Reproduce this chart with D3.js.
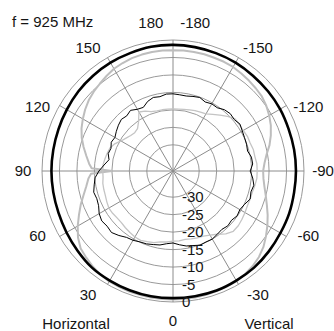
<!DOCTYPE html>
<html>
<head>
<meta charset="utf-8">
<script src="https://cdn.jsdelivr.net/npm/d3@7/dist/d3.min.js"></script>
<style>
  html, body { margin: 0; padding: 0; background: #fff; }
  svg { display: block; }
  text { font-family: "Liberation Sans", Arial, sans-serif; fill: #151515; }
</style>
</head>
<body>
<script>
// Measurement frequency
const title = "f = 925 MHz";

// Angle grids (degrees)
const angles10 = [-180,-170,-160,-150,-140,-130,-120,-110,-100,-90,-80,-70,-60,-50,-40,-30,-20,-10,
                  0,10,20,30,40,50,60,70,80,90,100,110,120,130,140,150,160,170];
const angles5 = [-180,-175,-170,-165,-160,-155,-150,-145,-140,-135,-130,-125,-120,-115,-110,-105,
                 -100,-95,-90,-85,-80,-75,-70,-65,-60,-55,-50,-45,-40,-35,-30,-25,-20,-15,-10,-5,
                 0,5,10,15,20,25,30,35,40,45,50,55,60,65,70,75,80,85,90,95,100,105,110,115,120,
                 125,130,135,140,145,150,155,160,165,170,175];
const anglesV = [-180,-175,-170,-165,-160,-155,-150,-145,-140,-135,-130,-125,-120,-115,-110,-105,
                 -100,-95,-90,-85,-80,-75,-70,-65,-60,-55,-50,-45,-40,-35,-30,-25,-20,-15,-10,-5,
                 0,5,10,15,20,25,30,35,40,45,50,55,60,65,70,75,80,85,88,90,92,95,100,105,110,115,120,
                 125,130,135,140,145,150,155,160,165,170,175];

// Horizontal polarisation, co-polar (dB), on angles10
const horizCo = [-1.4,-1.5,-1.6,-1.7,-1.9,-2.0,-2.1,-2.3,-2.3,-2.3,-2.3,-2.1,-2.0,-1.7,-1.4,-1.3,-1.1,-1.1,
                 -1.1,-1.1,-1.2,-1.3,-1.4,-1.9,-2.3,-2.6,-2.7,-2.7,-2.7,-2.6,-2.4,-2.1,-1.9,-1.7,-1.6,-1.4];

// Horizontal polarisation, cross-polar (dB), on angles5
const horizX = [-15.4,-15.6,-15.7,-15.4,-15.1,-15.7,-15.3,-15.4,-14.6,-14.3,-14.6,-14.1,-14.6,-14.9,-15.1,-15.4,
                -14.7,-14.6,-15.4,-14.6,-14.0,-14.4,-14.0,-14.9,-15.4,-15.1,-15.6,-15.3,-15.7,-15.4,-15.0,-15.1,
                -14.9,-15.4,-15.7,-16.3,-16.9,-16.6,-16.0,-15.7,-15.3,-15.1,-14.6,-14.3,-13.4,-12.6,-12.9,-12.6,
                -13.1,-14.0,-14.3,-14.0,-14.6,-15.1,-16.3,-17.7,-18.9,-18.3,-18.6,-18.0,-18.3,-17.7,-17.1,-16.6,
                -16.9,-16.3,-17.1,-17.4,-16.3,-15.7,-15.9,-15.4];

// Vertical polarisation, co-polar (dB), on anglesV
const vertCo = [-2.9,-2.9,-2.9,-2.9,-3.0,-3.0,-3.1,-3.4,-3.7,-4.0,-4.3,-4.9,-5.7,-6.6,-7.7,-8.9,
                -10.3,-11.2,-11.7,-11.5,-10.9,-10.0,-8.9,-7.6,-6.3,-5.0,-3.7,-2.7,-2.0,-1.5,-1.1,-1.0,
                -0.9,-0.8,-0.7,-0.7,-0.7,-0.7,-0.7,-0.8,-0.8,-0.9,-1.0,-1.3,-1.8,-2.4,-3.0,-4.3,
                -6.0,-7.8,-9.4,-11.0,-12.3,-13.2,-14.0,-20.0,-14.2,-13.4,-12.3,-11.0,-9.7,-8.6,-7.7,
                -6.8,-6.0,-5.4,-4.9,-4.3,-3.7,-3.4,-3.1,-3.0,-2.9,-2.9];

// Vertical polarisation, cross-polar (dB), on angles5
const vertX = [-19.7,-19.7,-19.6,-19.4,-19.1,-18.9,-18.6,-17.7,-16.6,-15.4,-14.3,-14.3,-14.3,-14.0,-14.0,-13.7,
               -13.7,-13.4,-13.4,-13.4,-13.7,-14.0,-14.0,-14.0,-13.7,-13.4,-13.1,-13.1,-14.0,-15.4,-16.3,-16.9,
               -17.1,-17.4,-17.6,-17.4,-17.4,-17.1,-16.9,-16.3,-16.0,-15.6,-15.7,-16.0,-16.3,-16.6,-16.6,-16.4,
               -16.3,-16.6,-16.9,-17.0,-17.1,-17.4,-17.4,-17.4,-17.7,-18.0,-18.3,-19.1,-20.3,-21.1,-21.7,-22.0,
               -21.7,-20.3,-18.0,-18.6,-19.4,-19.7,-19.7,-19.7];

// Grid: level rings and angle spokes
const ringLevels = [-30, -25, -20, -15, -10, -5, 0];
const ringLabels = ["-30", "-25", "-20", "-15", "-10", "-5", "0"];
const spokeAngles = [0, 30, 60, 90, 120, 150];
const angleTicks = [180, 150, 120, 90, 60, 30, 0, -30, -60, -90, -120, -150, -180];
const seriesNames = ["Horizontal", "Vertical"];

const W = 334, H = 331;
const cx = 173, cy = 171;
const outerR = 131;

const svg = d3.select("body").append("svg")
  .attr("width", W).attr("height", H)
  .style("background", "#fff");

const r = d3.scaleLinear().domain([-37.5, 0]).range([0, outerR]);
// data angle -> radial-line angle (0 at top, clockwise); 0 deg points down, +90 to the left
const a = d3.scaleLinear().domain([-180, 180]).range([0, 2 * Math.PI]);

const g = svg.append("g").attr("transform", `translate(${cx},${cy})`);

// rings
g.selectAll("circle.ring").data(ringLevels).join("circle")
  .attr("class", "ring")
  .attr("r", d => r(d))
  .attr("fill", "none")
  .attr("stroke", "#9a9a9a")
  .attr("stroke-width", 1);

// spokes (full diameters)
g.selectAll("line.spoke").data(spokeAngles).join("line")
  .attr("class", "spoke")
  .attr("x1", d => outerR * Math.sin(a(d)))
  .attr("y1", d => -outerR * Math.cos(a(d)))
  .attr("x2", d => -outerR * Math.sin(a(d)))
  .attr("y2", d => outerR * Math.cos(a(d)))
  .attr("stroke", "#8c8c8c")
  .attr("stroke-width", 1);

function polar(angles, values) {
  return angles.map((ang, i) => [ang, values[i]]);
}
const radial = d3.lineRadial()
  .angle(d => a(d[0]))
  .radius(d => r(d[1]))
  .curve(d3.curveLinearClosed);

// vertical polarisation (light grey)
g.append("path").datum(polar(anglesV, vertCo))
  .attr("d", radial).attr("fill", "none")
  .attr("stroke", "#bdbdbd").attr("stroke-width", 2).attr("stroke-linejoin", "round");
g.append("path").datum(polar(angles5, vertX))
  .attr("d", radial).attr("fill", "none")
  .attr("stroke", "#c4c4c4").attr("stroke-width", 1.3).attr("stroke-linejoin", "round");

// horizontal polarisation (black)
g.append("path").datum(polar(angles10, horizCo))
  .attr("d", radial.curve(d3.curveCardinalClosed)).attr("fill", "none")
  .attr("stroke", "#000").attr("stroke-width", 2.6);
radial.curve(d3.curveLinearClosed);
g.append("path").datum(polar(angles5, horizX))
  .attr("d", radial).attr("fill", "none")
  .attr("stroke", "#000").attr("stroke-width", 1).attr("stroke-linejoin", "round");

// level labels down the 0-degree spoke
g.selectAll("text.level").data(ringLevels).join("text")
  .attr("class", "level")
  .attr("x", 9)
  .attr("y", d => r(d))
  .attr("dy", "0.35em")
  .attr("font-size", 15)
  .text((d, i) => ringLabels[i]);

// angle labels around the rim
const labelR = 150;
function labelAngle(d) {
  if (Math.abs(d) === 180) return d - Math.sign(d) * 8.5;
  const s = Math.sin(2 * d * Math.PI / 180);
  return d + (Math.abs(s) < 1e-6 ? 0 : 4.5 * Math.sign(s));
}
g.selectAll("text.angle").data(angleTicks).join("text")
  .attr("class", "angle")
  .attr("x", d => labelR * Math.sin(a(labelAngle(d))))
  .attr("y", d => -labelR * Math.cos(a(labelAngle(d))))
  .attr("dy", "0.35em")
  .attr("text-anchor", "middle")
  .attr("font-size", 15)
  .text(d => d);

// title and series names
svg.append("text").attr("x", 12).attr("y", 27).attr("font-size", 15).text(title);
svg.append("text").attr("x", 76).attr("y", 329).attr("text-anchor", "middle")
  .attr("font-size", 15).text(seriesNames[0]);
svg.append("text").attr("x", 269).attr("y", 329).attr("text-anchor", "middle")
  .attr("font-size", 15).text(seriesNames[1]);
</script>
</body>
</html>
